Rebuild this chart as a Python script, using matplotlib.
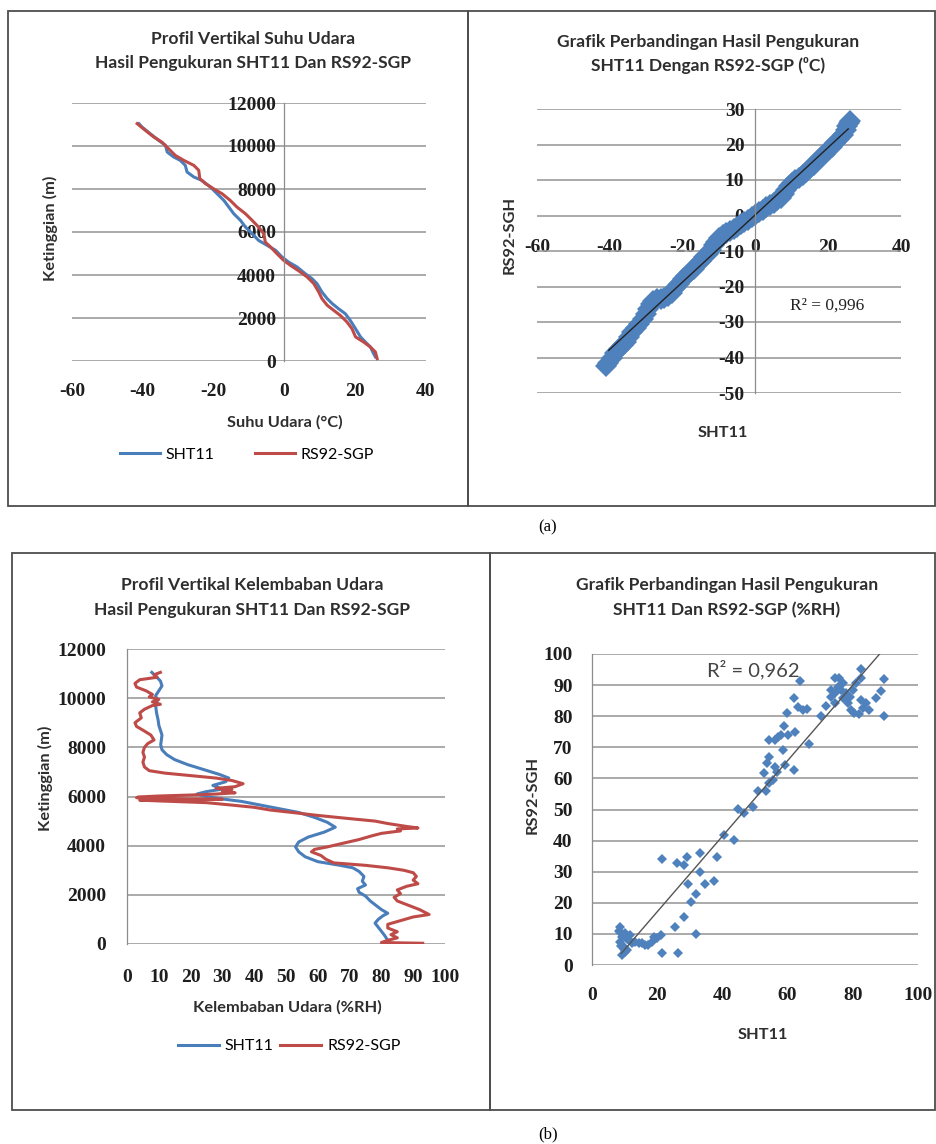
import matplotlib
matplotlib.use("Agg")
import matplotlib.pyplot as plt
from matplotlib.patches import Rectangle
import numpy as np

plt.rcParams["axes.unicode_minus"] = False

# ---------------- data ----------------
# (a) temperature profile: temperature (degC) and height (m)
sht_temp = [25.7, 25.2, 24.3, 22.9, 21.5, 20.1, 18.6, 17.2, 15.3, 13.5, 12.1, 10.6, 9.2, 7.8,
            5.9, 3.6, 1.2, -0.7, -2.5, -4.9, -7.3, -9.1, -11.0, -12.4, -14.3, -15.7, -17.1,
            -19.0, -20.9, -23.3, -25.6, -27.5, -28.0, -29.4, -31.3, -33.1, -33.6, -35.5,
            -37.9, -40.2, -41.1]
sht_temp_h = [190, 340, 650, 880, 1120, 1500, 1890, 2200, 2430, 2670, 2900, 3210, 3600, 3830,
              4060, 4370, 4600, 4840, 5150, 5380, 5610, 5920, 6230, 6540, 6850, 7160, 7470,
              7780, 8090, 8400, 8560, 8790, 9100, 9330, 9490, 9720, 10030, 10260, 10570,
              10880, 11040]
rs_temp = [26.2, 25.7, 24.3, 22.4, 20.1, 19.1, 17.7, 15.8, 13.9, 12.1, 10.6, 9.7, 8.3, 6.4,
           4.5, 1.7, -0.2, -2.1, -3.9, -5.4, -5.8, -7.3, -9.1, -11.0, -13.4, -15.3, -17.6,
           -20.0, -22.3, -23.9, -24.2, -25.6, -28.4, -30.8, -32.7, -34.6, -36.9, -39.3, -41.6]
rs_temp_h = [110, 420, 650, 880, 1120, 1500, 1810, 2120, 2360, 2590, 2900, 3210, 3600, 3910,
             4140, 4450, 4680, 4990, 5300, 5530, 5920, 6230, 6540, 6850, 7160, 7470, 7780,
             8010, 8250, 8480, 8870, 9100, 9330, 9560, 9870, 10180, 10420, 10730, 11040]

# (a) temperature comparison scatter
cmp_t_sht = [-41.0, -40.5, -39.5, -38.5, -37.5, -36.5, -35.6, -34.7, -33.8, -32.8, -31.9, -31.0,
             -30.1, -29.4, -28.7, -28.0, -27.0, -26.0, -25.0, -24.0, -23.0, -22.0, -21.0, -20.0,
             -19.0, -18.0, -17.0, -16.0, -15.0, -14.0, -13.0, -12.2, -11.5, -10.8, -10.0, -9.0,
             -8.0, -7.0, -6.0, -5.0, -4.0, -3.0, -2.0, -1.0, 0.0, 1.0, 2.0, 3.0, 4.0, 5.0, 6.0,
             7.0, 7.8, 8.4, 9.2, 10.0, 11.0, 12.0, 13.0, 14.0, 15.0, 16.0, 17.0, 18.0, 19.0,
             20.0, 21.0, 22.0, 23.0, 24.0, 24.8, 25.3, 25.7, 26.0]
cmp_t_rs = [-42.3, -41.5, -40.2, -38.8, -37.6, -36.5, -35.5, -34.3, -32.9, -31.7, -30.5, -29.2,
            -27.8, -26.4, -25.0, -24.0, -23.4, -23.5, -23.2, -22.6, -21.8, -20.4, -19.2, -18.0,
            -17.0, -16.0, -15.0, -14.0, -12.8, -11.8, -10.8, -9.6, -8.4, -7.4, -6.4, -5.6,
            -5.0, -4.4, -3.8, -3.1, -2.4, -1.8, -1.2, -0.5, 0.2, 1.0, 1.6, 2.3, 3.0, 3.6, 4.3,
            5.0, 6.0, 7.2, 8.4, 9.2, 9.9, 10.6, 11.3, 12.3, 13.3, 14.3, 15.3, 16.4, 17.4,
            18.4, 19.4, 20.3, 21.5, 22.7, 24.0, 25.2, 26.0, 26.5]
trend_t = dict(slope=0.948, intercept=0.22, x0=-40.3, x1=25.5)
r2_t = "R\u00b2 = 0,996"

# (b) humidity profile
sht_rh = [82, 81, 79.5, 78, 79, 80.5, 82, 80, 78.5, 76.5, 75, 73, 72.5, 75, 74, 74.5, 73, 71,
          67, 60, 56, 54, 53, 54, 57, 62, 65.5, 63, 59, 54, 48, 42, 36, 30, 25, 22, 25, 30, 27,
          31, 32, 29, 24, 19, 15, 12.5, 11, 10.6, 10.8, 11, 10.5, 10, 9.8, 9.3, 9, 9.5, 9, 10,
          11, 10.5, 9, 7.8]
sht_rh_h = [150, 350, 600, 850, 1000, 1150, 1250, 1400, 1550, 1750, 1950, 2100, 2250, 2400,
            2550, 2750, 2950, 3100, 3200, 3350, 3550, 3750, 3950, 4150, 4350, 4550, 4750, 4950,
            5150, 5350, 5500, 5650, 5800, 5900, 6000, 6100, 6200, 6300, 6450, 6600, 6750, 6900,
            7100, 7300, 7500, 7700, 7900, 8100, 8300, 8500, 8700, 8900, 9100, 9400, 9700, 9900,
            10100, 10300, 10500, 10700, 10900, 11050]
rs_rh = [93, 80, 82, 85, 83, 85, 82, 82, 86, 90, 95, 92, 89, 85, 84, 86, 85, 88, 91.5, 90, 91,
         90, 87, 82, 75, 65, 62.5, 61, 58, 59, 63, 68, 73, 77, 80, 86, 85, 91.5, 88, 82, 78, 70,
         60, 52, 45, 40, 33, 25, 10, 4, 15, 30, 20, 8, 3, 3.5, 10, 20, 28, 34, 30, 33, 28, 34,
         36.5, 33, 28, 20, 12, 7, 5.5, 5, 5.5, 5, 5.5, 6.5, 8.5, 7.5, 5, 3, 2.5, 4.5, 4, 5.5, 8,
         10.5, 8, 10, 7, 8, 6, 3, 2.5, 4, 9.5, 8.5, 10.5]
rs_rh_h = [30, 60, 150, 250, 380, 500, 650, 800, 950, 1100, 1200, 1400, 1550, 1750, 1900, 2050,
           2200, 2350, 2450, 2600, 2750, 2900, 3000, 3100, 3200, 3300, 3450, 3600, 3750, 3850,
           3950, 4100, 4250, 4400, 4500, 4600, 4680, 4720, 4780, 4900, 5000, 5100, 5230, 5350,
           5450, 5560, 5650, 5750, 5820, 5850, 5870, 5890, 5900, 5930, 5950, 5980, 6020, 6060,
           6100, 6150, 6200, 6280, 6330, 6400, 6520, 6650, 6750, 6850, 6950, 7050, 7200, 7400,
           7600, 7800, 8000, 8150, 8300, 8500, 8700, 8850, 9000, 9200, 9400, 9550, 9700, 9750,
           9850, 9950, 10050, 10150, 10300, 10450, 10600, 10750, 10850, 10950, 11050]

# (b) humidity comparison scatter
cmp_rh_sht = [8.7, 8.5, 9.2, 8.7, 9.7, 10.2, 9.2, 10.7, 11.2, 11.7, 10.2, 12.2, 13.3, 14.3, 15.3,
              16.3, 17.3, 18.3, 18.9, 19.9, 21.1, 21.4, 26.5, 25.5, 28.3, 30.4, 31.8, 31.9, 29.6,
              34.6, 37.4, 33.0, 33.0, 29.1, 28.3, 26.0, 21.4, 38.4, 40.5, 43.6, 44.9, 46.7, 49.4,
              51.0, 53.5, 54.2, 52.7, 53.7, 54.3, 54.3, 56.0, 57.1, 58.6, 58.1, 58.9, 60.1, 59.9,
              62.2, 61.9, 59.1, 56.6, 55.5, 56.0, 61.9, 63.2, 63.7, 64.7, 65.8, 66.6, 70.1, 71.9,
              73.4, 74.4, 74.4, 75.9, 77.0, 75.4, 76.5, 78.0, 77.5, 78.5, 79.5, 80.5, 82.0, 83.1,
              84.1, 85.1, 82.6, 80.0, 81.0, 82.4, 82.6, 87.2, 88.7, 89.7, 89.7, 73.4, 74.4, 77.0,
              79.0, 9.0, 9.8, 10.8, 8.4]
cmp_rh_rs = [12.1, 10.7, 9.1, 7.5, 5.9, 4.3, 3.2, 4.8, 8.0, 9.6, 10.2, 7.0, 7.5, 7.0, 7.0, 6.4,
             6.4, 7.5, 9.1, 8.6, 9.6, 4.0, 4.0, 12.1, 15.3, 20.1, 22.8, 10.0, 26.0, 26.0, 27.1,
             30.0, 35.9, 34.8, 32.0, 32.9, 34.1, 34.8, 41.8, 40.2, 50.1, 49.0, 50.9, 56.0, 56.0,
             58.4, 61.8, 64.8, 67.0, 72.3, 72.3, 73.4, 69.1, 74.0, 76.8, 74.0, 80.9, 75.0, 62.7,
             64.3, 62.2, 59.5, 63.6, 86.0, 83.0, 91.4, 82.0, 82.3, 71.1, 80.0, 83.3, 86.3, 87.4,
             92.2, 92.2, 90.6, 89.5, 88.4, 87.4, 85.4, 84.1, 82.0, 80.9, 80.7, 82.5, 84.1, 82.0,
             85.2, 88.4, 90.6, 95.1, 92.2, 86.0, 88.2, 91.9, 80.0, 88.4, 84.1, 85.7, 86.3, 6.0,
             5.0, 8.5, 11.0]
trend_rh = dict(slope=1.215, intercept=-7.19, x0=9.0, x1=88.2)
r2_rh = "R\u00b2 = 0,962"

series_names = ["SHT11", "RS92-SGP"]

# ---------------- style ----------------
W, H = 937, 1144
BLUE = "#4a7ebb"
RED = "#be4b48"
SCAT = "#4f81bd"
GRID = "#9c9c9c"
TXT = "#2e2e2e"
TFONT = ["Lato", "DejaVu Sans"]
NUMFONT = "Liberation Serif"

fig = plt.figure(figsize=(W / 100, H / 100), dpi=100)
fig.patch.set_facecolor("white")


def pos(l, t, r, b):
    return [l / W, 1 - b / H, (r - l) / W, (b - t) / H]


def ftext(x, y, s, **kw):
    kw.setdefault("ha", "center")
    kw.setdefault("va", "center")
    return fig.text(x / W, 1 - y / H, s, **kw)


def box(l, t, r, b):
    fig.add_artist(Rectangle((l / W, 1 - b / H), (r - l) / W, (b - t) / H,
                             transform=fig.transFigure, fill=False,
                             edgecolor="#4d4d4d", linewidth=1.3))


def style_axes(ax, ypad, xpad):
    ax.set_facecolor("none")
    for s in ["top", "right", "bottom"]:
        ax.spines[s].set_visible(False)
    ax.spines["left"].set_color("#8c8c8c")
    ax.spines["left"].set_linewidth(0.9)
    ax.yaxis.grid(True, color=GRID, linewidth=1.2)
    ax.xaxis.grid(False)
    ax.set_axisbelow(True)
    ax.tick_params(axis="both", length=0, labelsize=14, labelcolor="#1e1e1e")
    ax.tick_params(axis="y", pad=ypad)
    ax.tick_params(axis="x", pad=xpad)
    for lab in ax.get_xticklabels() + ax.get_yticklabels():
        lab.set_fontfamily(NUMFONT)
        lab.set_fontweight("bold")


def title2(x, y1, y2, l1, l2):
    ftext(x, y1, l1, fontsize=12.6, family=TFONT, weight="bold", color=TXT)
    ftext(x, y2, l2, fontsize=12.6, family=TFONT, weight="bold", color=TXT)


# panel boxes
box(8, 11, 468, 506)
box(468, 11, 935, 506)
box(12, 553, 490, 1110)
box(490, 553, 935, 1110)
ftext(548, 527, "(a)", fontsize=12, family="Liberation Serif")
ftext(548, 1134, "(b)", fontsize=12, family="Liberation Serif")

LAB = dict(fontsize=11.8, family=TFONT, weight="bold", color=TXT)

# ---------- panel (a) left: temperature profile ----------
ax1 = fig.add_axes(pos(72, 103, 426, 361))
ax1.plot(sht_temp, sht_temp_h, color=BLUE, lw=2.2, label=series_names[0])
ax1.plot(rs_temp, rs_temp_h, color=RED, lw=2.2, label=series_names[1])
ax1.set_xlim(-60, 40)
ax1.set_ylim(0, 12000)
ax1.set_xticks(np.arange(-60, 41, 20))
ax1.set_yticks(np.arange(0, 12001, 2000))
ax1.spines["left"].set_position(("data", 0))
style_axes(ax1, 6, 16)
title2(253, 39, 63, "Profil Vertikal Suhu Udara", "Hasil Pengukuran SHT11 Dan RS92-SGP")
ftext(50, 228, "Ketinggian (m)", rotation=90, **LAB)
ftext(285, 422, "Suhu Udara (\u00b0C)", **LAB)
ax1.legend(loc="center", bbox_to_anchor=(247 / W, 1 - 455 / H), bbox_transform=fig.transFigure,
           ncol=2, frameon=False, prop={"family": TFONT, "size": 11.5}, handlelength=2.5,
           handletextpad=0.35, columnspacing=2.5)

# ---------- panel (a) right: temperature scatter ----------
ax2 = fig.add_axes(pos(537, 109, 901, 393))
ax2.plot(cmp_t_sht, cmp_t_rs, linestyle="none", marker="D", markersize=11, color=SCAT,
         markeredgewidth=0)
xt = np.array([trend_t["x0"], trend_t["x1"]])
ax2.plot(xt, trend_t["slope"] * xt + trend_t["intercept"], color="#222222", lw=1.0)
ax2.set_xlim(-60, 40)
ax2.set_ylim(-50, 30)
ax2.spines["left"].set_position(("data", 0))
ax2.spines["bottom"].set_position(("data", 0))
ax2.set_xticks(np.arange(-60, 41, 20))
ax2.set_yticks(np.arange(-50, 31, 10))
style_axes(ax2, 8, 17)
ax2.text(19.7, -25.5, r2_t, fontsize=12.5, family="Liberation Serif", ha="center", va="center",
         color="#222222")
title2(708, 42, 65, "Grafik Perbandingan Hasil Pengukuran", "SHT11 Dengan RS92-SGP (\u2070C)")
ftext(510, 235, "RS92-SGH", rotation=90, **LAB)
ftext(723, 433, "SHT11", **LAB)

# ---------- panel (b) left: humidity profile ----------
ax3 = fig.add_axes(pos(127, 649, 445, 944))
ax3.plot(sht_rh, sht_rh_h, color=BLUE, lw=2.2, label=series_names[0])
ax3.plot(rs_rh, rs_rh_h, color=RED, lw=2.2, label=series_names[1])
ax3.set_xlim(0, 100)
ax3.set_ylim(0, 12000)
ax3.set_xticks(np.arange(0, 101, 10))
ax3.set_yticks(np.arange(0, 12001, 2000))
style_axes(ax3, 15, 18)
title2(252, 585, 610, "Profil Vertikal Kelembaban Udara", "Hasil Pengukuran SHT11 Dan RS92-SGP")
ftext(45, 778, "Ketinggian (m)", rotation=90, **LAB)
ftext(287, 1007, "Kelembaban Udara (%RH)", **LAB)
ax3.legend(loc="center", bbox_to_anchor=(289 / W, 1 - 1046 / H), bbox_transform=fig.transFigure,
           ncol=2, frameon=False, prop={"family": TFONT, "size": 11.5}, handlelength=2.6,
           handletextpad=0.35, columnspacing=0.4)

# ---------- panel (b) right: humidity scatter ----------
ax4 = fig.add_axes(pos(592, 654, 918, 965))
ax4.plot(cmp_rh_sht, cmp_rh_rs, linestyle="none", marker="D", markersize=5.5, color=SCAT,
         markeredgewidth=0)
xr = np.array([trend_rh["x0"], trend_rh["x1"]])
ax4.plot(xr, trend_rh["slope"] * xr + trend_rh["intercept"], color="#555555", lw=1.0)
ax4.set_xlim(0, 100)
ax4.set_ylim(0, 100)
ax4.set_xticks(np.arange(0, 101, 20))
ax4.set_yticks(np.arange(0, 101, 10))
style_axes(ax4, 14, 16)
ax4.text(49.5, 95, r2_rh, fontsize=14.5, family=TFONT, ha="center", va="center", color="#444444")
title2(727, 585, 610, "Grafik Perbandingan Hasil Pengukuran", "SHT11 Dan RS92-SGP (%RH)")
ftext(533, 795, "RS92-SGH", rotation=90, **LAB)
ftext(763, 1035, "SHT11", **LAB)

fig.savefig("out.png", dpi=100)
